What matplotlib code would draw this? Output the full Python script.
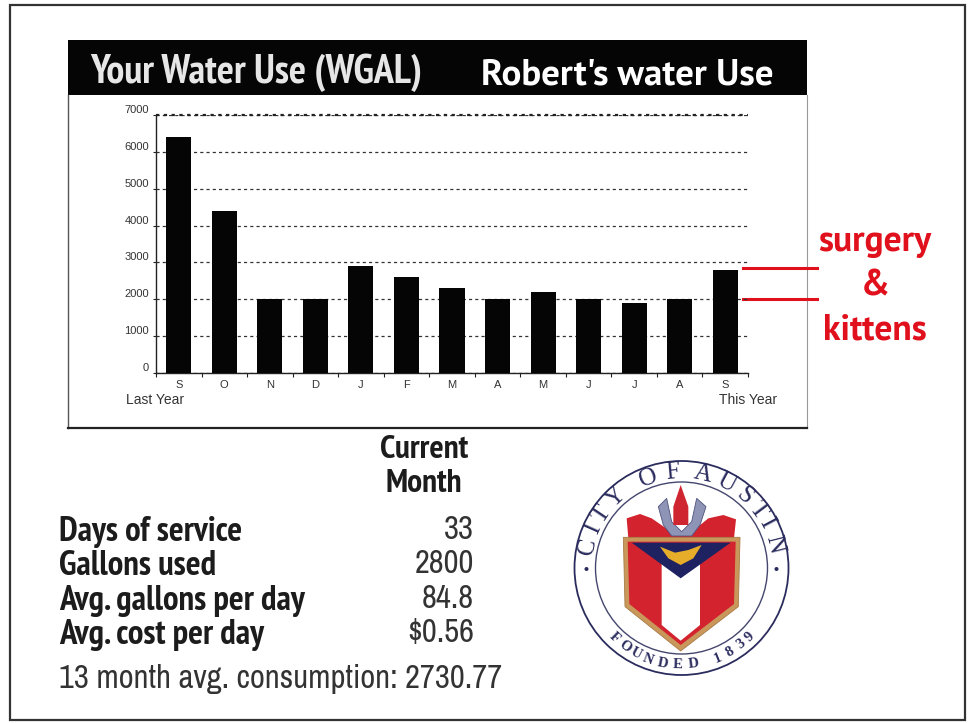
import numpy as np
import matplotlib
matplotlib.use('Agg')
import matplotlib.pyplot as plt
from matplotlib.patches import Circle, Polygon, Rectangle

months = ['S', 'O', 'N', 'D', 'J', 'F', 'M', 'A', 'M', 'J', 'J', 'A', 'S']
water_use = [6400, 4400, 2000, 2000, 2900, 2600, 2300, 2000, 2200, 2000, 1900, 2000, 2800]
y_ticks = [0, 1000, 2000, 3000, 4000, 5000, 6000, 7000]
row_labels = ['Days of service', 'Gallons used', 'Avg. gallons per day', 'Avg. cost per day']
row_values = ['33', '2800', '84.8', '$0.56']

W, H = 969, 723
NARROW_B = ['PT Sans Narrow', 'Asap Condensed', 'Liberation Sans', 'DejaVu Sans']
NARROW = ['Archivo Narrow', 'PT Sans Narrow', 'Liberation Sans', 'DejaVu Sans']
HUMAN = ['PT Sans', 'Open Sans', 'DejaVu Sans']
SMALL = ['Liberation Sans', 'DejaVu Sans']
DARK = '#1c1c1c'
RED = '#e0101c'

fig = plt.figure(figsize=(W / 100, H / 100), dpi=100, facecolor='white')

# page layer in pixel coords
bg = fig.add_axes([0, 0, 1, 1])
bg.set_xlim(0, W)
bg.set_ylim(H, 0)
bg.axis('off')

bg.add_patch(Rectangle((10, 5), 955, 715, fill=False, ec='#333333', lw=1.6))
bg.add_patch(Rectangle((68, 40), 739, 55, fc='#050505', ec='none'))
bg.plot([807, 807], [95, 428], color='#999999', lw=0.8)
bg.plot([68, 68], [95, 428], color='#555555', lw=1)
bg.plot([68, 807], [428, 428], color='#222222', lw=1.6)

bg.text(90, 73, 'Your Water Use (WGAL)', color='#e6e6e6', fontsize=29, weight='bold',
        family=NARROW_B, va='center', ha='left')
bg.text(481, 75, "Robert's water Use", color='white', fontsize=26.6, weight='bold',
        family=HUMAN, va='center', ha='left')

# chart
ax = fig.add_axes([156 / W, 1 - 373 / H, (748 - 156) / W, (373 - 115) / H])
ax.patch.set_alpha(0)
ax.bar(range(len(water_use)), water_use, width=0.55, color='#050505', zorder=3)
ax.set_xlim(-0.5, 12.5)
ax.set_ylim(0, 7000)
ax.set_yticks(y_ticks)
ax.set_yticklabels([str(v) for v in y_ticks], fontsize=8, color='#333333', family=SMALL, va='bottom')
ax.set_xticks(np.arange(-0.5, 13, 1))
ax.set_xticklabels([])
ax.set_xticks(range(13), minor=True)
ax.set_xticklabels(months, minor=True, fontsize=8, color='#333333', family=SMALL)
ax.tick_params(axis='x', which='major', length=3, width=0.8, color='#222222')
ax.tick_params(axis='x', which='minor', length=0, pad=5)
ax.tick_params(axis='y', length=2, width=0.8, color='#222222', pad=3)
ax.grid(axis='y', color='#333333', lw=0.9, ls=(0, (2.5, 2.5)), zorder=1)
ax.set_axisbelow(True)
for s in ['top', 'right']:
    ax.spines[s].set_visible(False)
for s in ['left', 'bottom']:
    ax.spines[s].set_color('#222222')
    ax.spines[s].set_linewidth(1.0)
ax.axhline(7000, color='#222222', lw=1.6, ls=(0, (1.5, 2)), clip_on=False, zorder=2)

bg.text(155, 400, 'Last Year', fontsize=10, color='#333333', ha='center', va='center', family=SMALL)
bg.text(748, 400, 'This Year', fontsize=10, color='#333333', ha='center', va='center', family=SMALL)

# red annotation
bg.plot([743, 817], [268, 268], color=RED, lw=2.2)
bg.plot([743, 817], [299, 299], color=RED, lw=2.2)
for y, s in [(242, 'surgery'), (286, '&'), (330, 'kittens')]:
    bg.text(875, y, s, color=RED, fontsize=25.7, weight='bold', family=HUMAN, ha='center', va='center')

# summary table
bg.text(424, 450, 'Current', fontsize=24, weight='bold', family=NARROW_B, color=DARK, ha='center', va='center')
bg.text(424, 484, 'Month', fontsize=24, weight='bold', family=NARROW_B, color=DARK, ha='center', va='center')
for y, lab, val in zip([532, 566, 601, 635], row_labels, row_values):
    bg.text(59, y, lab, fontsize=25, weight='bold', family=NARROW_B, color=DARK, ha='left', va='center')
    bg.text(474, y - 2, val, fontsize=23.5, family=NARROW, color='#333333', ha='right', va='center')
bg.text(59, 679, '13 month avg. consumption: 2730.77', fontsize=23.5, family=NARROW, color='#333333',
        ha='left', va='center')


# seal, drawn from points measured on a 3x crop starting at (560, 450)
def seal(pts):
    return [(560 + x / 3, 450 + y / 3) for x, y in pts]


cx, cy = 681.5, 568
NAVY = '#2b2c5e'
bg.add_patch(Circle((cx, cy), 107, fill=False, ec=NAVY, lw=1.3))
bg.add_patch(Circle((cx, cy), 86, fill=False, ec='#44466e', lw=1.0))

bg.add_patch(Polygon(seal([(205, 265), (200, 205), (240, 192), (275, 205), (340, 250), (390, 250),
                           (445, 205), (490, 195), (528, 208), (522, 265)]), fc='#d2232f', ec='none'))
bg.add_patch(Polygon(seal([(295, 170), (320, 145), (335, 215), (365, 245), (395, 215), (410, 145),
                           (438, 170), (420, 225), (395, 258), (335, 258), (310, 225)]),
                     fc='#8d94b5', ec='#50537e', lw=0.6))
bg.add_patch(Polygon(seal([(362, 105), (385, 170), (385, 225), (340, 225), (340, 170)]), fc='#cf2530', ec='none'))
bg.add_patch(Polygon(seal([(190, 262), (540, 262), (535, 470), (362, 603), (195, 470)]),
                     fc='#c9975a', ec='#a77c48', lw=0.6))
bg.add_patch(Polygon(seal([(203, 275), (527, 275), (522, 462), (362, 585), (208, 462)]), fc='#d2232f', ec='none'))
bg.add_patch(Polygon(seal([(305, 340), (420, 340), (420, 525), (362, 572), (305, 525)]), fc='white', ec='none'))
bg.add_patch(Polygon(seal([(215, 278), (512, 278), (362, 385)]), fc='#1e2260', ec='none'))
bg.add_patch(Polygon(seal([(300, 290), (345, 308), (385, 300), (425, 285), (400, 325), (362, 345), (325, 325)]),
                     fc='#e6ad2a', ec='none'))

# curved seal lettering
top_chars = 'CITYOFAUSTIN'
top_angles = [167, 156, 146, 133, 110, 95, 77, 62, 49, 37, 28, 14]
for ch, a in zip(top_chars, top_angles):
    t = np.radians(a)
    bg.text(cx + 96 * np.cos(t), cy - 96 * np.sin(t), ch, fontsize=18, color=NAVY, family='Liberation Serif',
            ha='center', va='center', rotation=a - 90)
low_chars = 'FOUNDED1839'
low_angles = [-134, -126, -118, -110, -101, -92, -83, -68, -60, -52, -45]
for ch, a in zip(low_chars, low_angles):
    t = np.radians(a)
    bg.text(cx + 97 * np.cos(t), cy - 97 * np.sin(t), ch, fontsize=10.5, color=NAVY, family='Liberation Serif',
            ha='center', va='center', rotation=a + 90, weight='bold')
for x in [cx - 95, cx + 95]:
    bg.add_patch(Circle((x, cy + 1), 2, fc=NAVY, ec='none'))

fig.savefig('out.png', dpi=100)
